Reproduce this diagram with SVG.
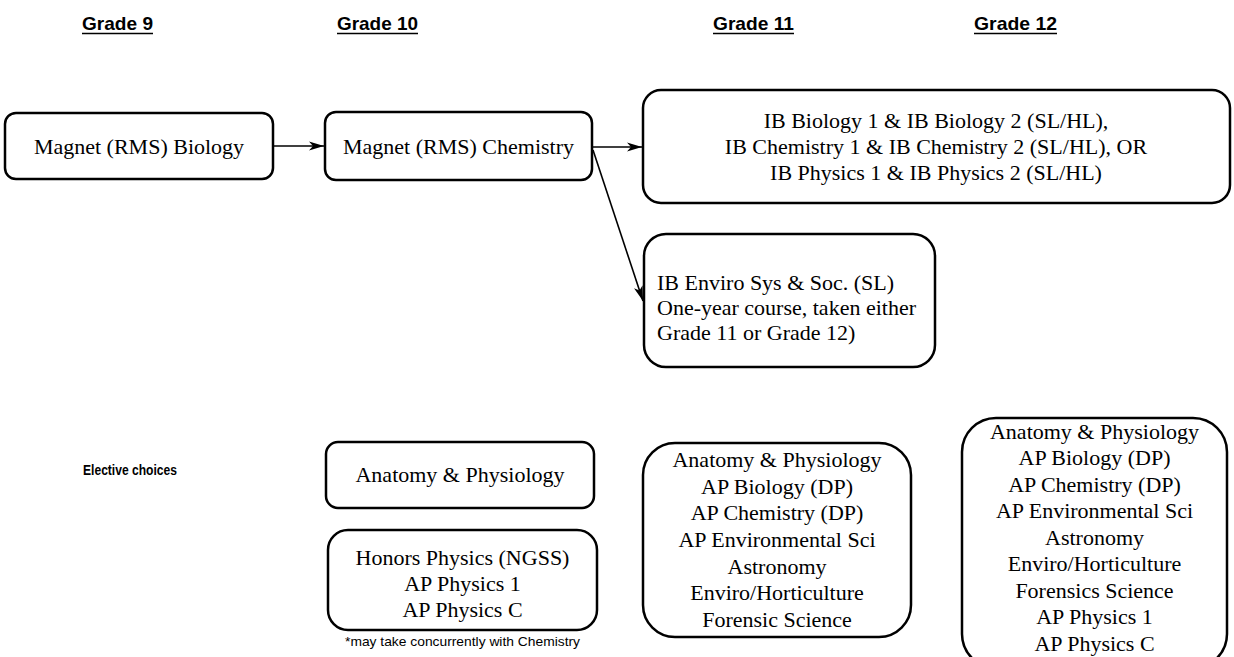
<svg xmlns="http://www.w3.org/2000/svg" width="1234" height="657" viewBox="0 0 1234 657">
<style>
.box{fill:#fff;stroke:#000;stroke-width:2.5}
.t{font-family:"Liberation Serif","Times New Roman",serif;font-size:22px;fill:#000}
.c{text-anchor:middle}
.h{font-family:"Liberation Sans",Arial,sans-serif;font-weight:bold;font-size:19px;fill:#000}
.ul{stroke:#000;stroke-width:1.6}
.conn{stroke:#000;stroke-width:1.6;fill:none;marker-end:url(#arr)}
</style>
<defs>
<marker id="arr" markerUnits="userSpaceOnUse" markerWidth="16" markerHeight="10" refX="15" refY="5" orient="auto">
<path d="M0,0.5 L15,5 L0,9.5 L4,5 z" fill="#000"/>
</marker>
</defs>
<rect width="1234" height="657" fill="#fff"/>
<g id="headers">
<text class="h" x="82" y="30" textLength="71" lengthAdjust="spacingAndGlyphs">Grade 9</text>
<line class="ul" x1="82" y1="33.5" x2="153" y2="33.5"/>
<text class="h" x="337" y="30" textLength="81" lengthAdjust="spacingAndGlyphs">Grade 10</text>
<line class="ul" x1="337" y1="33.5" x2="418" y2="33.5"/>
<text class="h" x="713" y="30" textLength="81" lengthAdjust="spacingAndGlyphs">Grade 11</text>
<line class="ul" x1="713" y1="33.5" x2="794" y2="33.5"/>
<text class="h" x="974" y="30" textLength="83" lengthAdjust="spacingAndGlyphs">Grade 12</text>
<line class="ul" x1="974" y1="33.5" x2="1057" y2="33.5"/>
<text class="h" x="83" y="475" style="font-size:15px" textLength="94" lengthAdjust="spacingAndGlyphs">Elective choices</text>
</g>
<g id="connectors">
<line class="conn" x1="274" y1="146" x2="324" y2="146"/>
<line class="conn" x1="593" y1="147" x2="642" y2="147"/>
<line class="conn" x1="593" y1="150" x2="643" y2="301"/>
</g>
<g id="bio9">
<rect class="box" x="5" y="113" width="268" height="66" rx="11"/>
<text class="t c" x="139" y="154">Magnet (RMS) Biology</text>
</g>
<g id="chem10">
<rect class="box" x="325" y="112" width="267" height="68" rx="11"/>
<text class="t c" x="458.5" y="154">Magnet (RMS) Chemistry</text>
</g>
<g id="ib11">
<rect class="box" x="643" y="90" width="587" height="113" rx="18"/>
<text class="t c" x="936" y="128">IB Biology 1 &amp; IB Biology 2 (SL/HL),</text>
<text class="t c" x="936" y="154">IB Chemistry 1 &amp; IB Chemistry 2 (SL/HL), OR</text>
<text class="t c" x="936" y="180">IB Physics 1 &amp; IB Physics 2 (SL/HL)</text>
</g>
<g id="ess">
<rect class="box" x="644" y="234" width="291" height="133" rx="22"/>
<text class="t" x="657" y="290">IB Enviro Sys &amp; Soc. (SL)</text>
<text class="t" x="657" y="315">One-year course, taken either</text>
<text class="t" x="657" y="340">Grade 11 or Grade 12)</text>
</g>
<g id="ap10">
<rect class="box" x="326" y="442" width="268" height="66" rx="12"/>
<text class="t c" x="460" y="482">Anatomy &amp; Physiology</text>
</g>
<g id="phys10">
<rect class="box" x="328" y="530" width="269" height="100" rx="20"/>
<text class="t c" x="462.5" y="565">Honors Physics (NGSS)</text>
<text class="t c" x="462.5" y="591">AP Physics 1</text>
<text class="t c" x="462.5" y="617">AP Physics C</text>
<text x="462.5" y="646" text-anchor="middle" style="font-family:'Liberation Sans',Arial,sans-serif;font-size:13px" textLength="235" lengthAdjust="spacingAndGlyphs">*may take concurrently with Chemistry</text>
</g>
<g id="elect11">
<rect class="box" x="643" y="443" width="268" height="194" rx="32"/>
<text class="t c" x="777" y="467">Anatomy &amp; Physiology</text>
<text class="t c" x="777" y="494">AP Biology (DP)</text>
<text class="t c" x="777" y="520">AP Chemistry (DP)</text>
<text class="t c" x="777" y="547">AP Environmental Sci</text>
<text class="t c" x="777" y="574">Astronomy</text>
<text class="t c" x="777" y="600">Enviro/Horticulture</text>
<text class="t c" x="777" y="627">Forensic Science</text>
</g>
<g id="elect12">
<rect class="box" x="962" y="418" width="265" height="250" rx="34"/>
<text class="t c" x="1094.5" y="439">Anatomy &amp; Physiology</text>
<text class="t c" x="1094.5" y="465">AP Biology (DP)</text>
<text class="t c" x="1094.5" y="492">AP Chemistry (DP)</text>
<text class="t c" x="1094.5" y="518">AP Environmental Sci</text>
<text class="t c" x="1094.5" y="545">Astronomy</text>
<text class="t c" x="1094.5" y="571">Enviro/Horticulture</text>
<text class="t c" x="1094.5" y="598">Forensics Science</text>
<text class="t c" x="1094.5" y="624">AP Physics 1</text>
<text class="t c" x="1094.5" y="651">AP Physics C</text>
</g>
</svg>
